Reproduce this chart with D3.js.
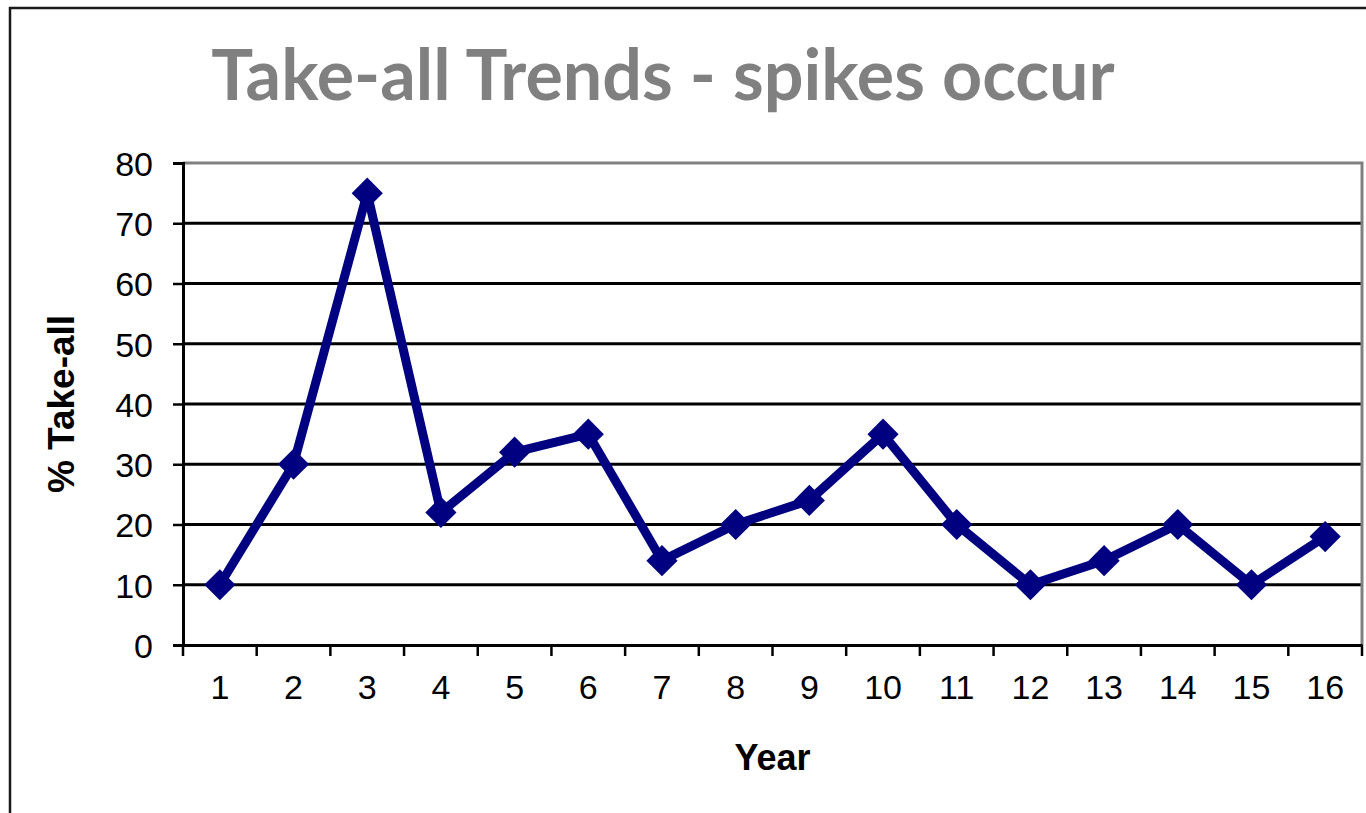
<!DOCTYPE html>
<html lang="en">
<head>
    <meta charset="UTF-8">
    <script src="https://d3js.org/d3.v7.min.js"></script>
    <style>
        body { margin: 0; background: #fff; }
    </style>
</head>
<body>
<div id="chart"></div>
<script>
    // values
    var years = ["1", "2", "3", "4", "5", "6", "7", "8", "9", "10", "11", "12", "13", "14", "15", "16"];
    var takeAll = [10, 30, 75, 22, 32, 35, 14, 20, 24, 35, 20, 10, 14, 20, 10, 18];
    var yTicks = [0, 10, 20, 30, 40, 50, 60, 70, 80];

    var W = 1366, H = 813;
    var plot = {left: 183, top: 163, right: 1362, bottom: 645};

    var svg = d3.select("#chart")
        .append("svg")
            .attr("width", W)
            .attr("height", H);

    // outer frame
    svg.append("rect")
        .attr("x", 10).attr("y", 8)
        .attr("width", W + 20).attr("height", H + 20)
        .attr("fill", "none")
        .attr("stroke", "#1a1a1a")
        .attr("stroke-width", 2.5);

    svg.append("text")
        .attr("x", 663).attr("y", 100)
        .attr("text-anchor", "middle")
        .attr("font-family", "Lato, 'Open Sans', sans-serif")
        .attr("font-weight", "bold")
        .attr("font-size", 70)
        .attr("fill", "#808080")
        .text("Take-all Trends - spikes occur");

    var x = d3.scaleBand().domain(years).range([plot.left, plot.right]);
    var y = d3.scaleLinear().domain([0, 80]).range([plot.bottom, plot.top]);

    // gridlines
    svg.append("g")
        .selectAll("line")
        .data(yTicks.slice(1, -1))
        .join("line")
            .attr("x1", plot.left).attr("x2", plot.right)
            .attr("y1", function(d) { return y(d); })
            .attr("y2", function(d) { return y(d); })
            .attr("stroke", "#000")
            .attr("stroke-width", 2.8);

    // gray top and right frame of the plot
    svg.append("path")
        .attr("d", "M" + plot.left + "," + y(80) + "H" + plot.right + "V" + plot.bottom)
        .attr("fill", "none")
        .attr("stroke", "#808080")
        .attr("stroke-width", 3);

    var yAxis = svg.append("g")
        .attr("transform", "translate(" + plot.left + ",0)")
        .call(d3.axisLeft(y).tickValues(yTicks).tickSize(10).tickPadding(20));

    var xAxis = svg.append("g")
        .attr("transform", "translate(0," + plot.bottom + ")")
        .call(d3.axisBottom(x).tickSize(0).tickPadding(30));

    // category boundary ticks
    svg.append("g")
        .selectAll("line")
        .data(years.concat(["end"]))
        .join("line")
            .attr("x1", function(d, i) { return plot.left + i * x.step(); })
            .attr("x2", function(d, i) { return plot.left + i * x.step(); })
            .attr("y1", plot.bottom)
            .attr("y2", plot.bottom + 11)
            .attr("stroke", "#000")
            .attr("stroke-width", 2.5);

    [yAxis, xAxis].forEach(function(a) {
        a.select(".domain").attr("stroke", "#000").attr("stroke-width", 3);
        a.selectAll(".tick line").attr("stroke", "#000").attr("stroke-width", 2.5);
        a.selectAll("text")
            .attr("font-family", "'Liberation Sans', Arial, sans-serif")
            .attr("font-size", 34)
            .attr("fill", "#000");
    });
    yAxis.selectAll("text").attr("dy", "0.36em");
    xAxis.selectAll("text").attr("dy", "0.72em");

    svg.append("text")
        .attr("x", (plot.left + plot.right) / 2).attr("y", 770)
        .attr("text-anchor", "middle")
        .attr("font-family", "'Liberation Sans', Arial, sans-serif")
        .attr("font-weight", "bold")
        .attr("font-size", 36)
        .text("Year");

    svg.append("text")
        .attr("transform", "translate(74," + (plot.top + plot.bottom) / 2 + ") rotate(-90)")
        .attr("text-anchor", "middle")
        .attr("font-family", "'Liberation Sans', Arial, sans-serif")
        .attr("font-weight", "bold")
        .attr("font-size", 37)
        .text("% Take-all");

    var line = d3.line()
        .x(function(d, i) { return x(years[i]) + x.bandwidth() / 2; })
        .y(function(d) { return y(d); });

    svg.append("path")
        .datum(takeAll)
        .attr("d", line)
        .attr("fill", "none")
        .attr("stroke", "#000080")
        .attr("stroke-width", 9)
        .attr("stroke-linejoin", "miter");

    svg.append("g")
        .selectAll("path")
        .data(takeAll)
        .join("path")
            .attr("transform", function(d, i) {
                return "translate(" + (x(years[i]) + x.bandwidth() / 2) + "," + y(d) + ")";
            })
            .attr("d", d3.symbol(d3.symbolDiamond2, 620))
            .attr("fill", "#000080");
</script>
</body>
</html>
